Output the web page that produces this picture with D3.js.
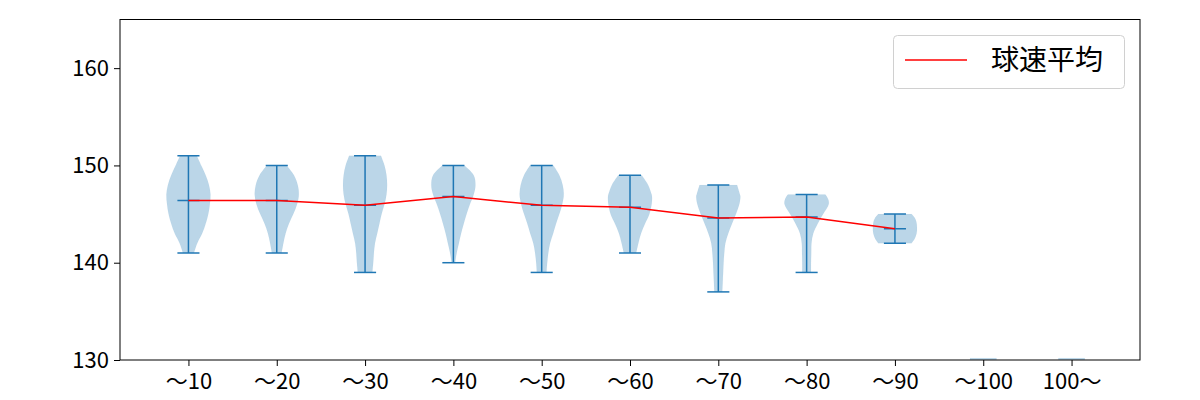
<!DOCTYPE html>
<html><head><meta charset="utf-8">
<script src="https://cdn.jsdelivr.net/npm/d3@7"></script>
<style>
body{margin:0;background:#fff;}
text{font-family:"Noto Sans CJK JP","Noto Sans",sans-serif;}
</style></head>
<body><svg id="c" width="1200" height="400"></svg>
<script>
const categories = ["～10","～20","～30","～40","～50","～60","～70","～80","～90","～100","100～"];
const mins  = [141,141,139,140,139,141,137,139,142,130,130];
const maxs  = [151,150,151,150,150,149,148,147,145,130,130];
const means = [146.4,146.4,145.9,146.8,145.9,145.7,144.6,144.7,143.5,null,null];
// violin outlines: [value, relative half-width]
const shapes = [
  [[141,0.25],[142,0.4],[143,0.62],[144,0.78],[145,0.9],[146,0.97],[147,1.0],[148,0.93],[149,0.78],[150,0.58],[151,0.38]],
  [[141,0.22],[142,0.3],[143,0.4],[144,0.55],[145,0.75],[146,0.92],[147,1.0],[148,0.95],[149,0.78],[150,0.45]],
  [[139,0.33],[140,0.37],[141,0.4],[142,0.45],[143,0.55],[144,0.65],[145,0.75],[146,0.88],[147,0.97],[148,1.0],[149,0.97],[150,0.88],[151,0.72]],
  [[140,0.08],[141,0.15],[142,0.25],[143,0.35],[144,0.47],[145,0.6],[146,0.75],[147,0.92],[148,1.0],[149,0.92],[150,0.5]],
  [[139,0.22],[140,0.25],[141,0.3],[142,0.38],[143,0.52],[144,0.65],[145,0.8],[146,0.93],[147,1.0],[148,0.95],[149,0.8],[150,0.53]],
  [[141,0.28],[142,0.38],[143,0.5],[144,0.68],[145,0.88],[146,0.98],[146.7,1.0],[147,0.98],[148,0.82],[149,0.53]],
  [[137,0.18],[138,0.2],[139,0.22],[140,0.24],[141,0.27],[142,0.32],[143,0.45],[144,0.62],[145,0.8],[146,0.95],[146.8,1.0],[147,0.98],[148,0.85]],
  [[139,0.2],[140,0.2],[141,0.21],[142,0.22],[143,0.3],[144,0.5],[145,0.75],[146,1.0],[146.5,0.98],[147,0.85]],
  [[142,0.75],[142.5,0.9],[143,0.98],[143.6,1.0],[144.2,0.97],[144.6,0.9],[145,0.75]],
  [[129.8,0.6],[130.2,0.6]],
  [[129.8,0.6],[130.2,0.6]]
];
const yTicks = [130,140,150,160];
const legendLabel = "球速平均";

const svg = d3.select("#c");
const L=120,R=1140,T=19.5,B=360;
const x = d3.scaleLinear().domain([0.225,11.775]).range([L,R]);
const y = d3.scaleLinear().domain([130,165]).range([B,T]);
const blue="#1f77b4";
const halfW = 0.25, capW = 0.125;

svg.append("defs").append("clipPath").attr("id","clip").append("rect")
  .attr("x",L).attr("y",T).attr("width",R-L).attr("height",B-T);
const g = svg.append("g").attr("clip-path","url(#clip)");

categories.forEach((c,i)=>{
  const p=i+1;
  const area=d3.area()
    .y(d=>y(d[0]))
    .x0(d=>x(p-d[1]*halfW))
    .x1(d=>x(p+d[1]*halfW))
    .curve(d3.curveCatmullRom);
  g.append("path").attr("d",area(shapes[i]))
    .attr("fill",blue).attr("fill-opacity",0.3).attr("stroke",blue).attr("stroke-opacity",0.05).attr("stroke-width",0.5);
  if(means[i]!==null){
    const lines=[[mins[i],mins[i]],[maxs[i],maxs[i]],[means[i],means[i]]];
    lines.forEach(v=>{
      g.append("line").attr("x1",x(p-capW)).attr("x2",x(p+capW))
        .attr("y1",y(v[0])).attr("y2",y(v[1])).attr("stroke",blue).attr("stroke-width",1.5);
    });
    g.append("line").attr("x1",x(p)).attr("x2",x(p))
      .attr("y1",y(mins[i])).attr("y2",y(maxs[i])).attr("stroke",blue).attr("stroke-width",1.5);
  }
});

const meanPts = means.map((m,i)=>[i+1,m]).filter(d=>d[1]!==null);
g.append("path").attr("d",d3.line().x(d=>x(d[0])).y(d=>y(d[1]))(meanPts))
  .attr("fill","none").attr("stroke","red").attr("stroke-width",1.5);

// axes
const ax = svg.append("g").attr("transform",`translate(0,${B})`)
  .call(d3.axisBottom(x).tickValues(d3.range(1,12)).tickFormat(d=>categories[d-1]).tickSize(6).tickPadding(4));
const ay = svg.append("g").attr("transform",`translate(${L},0)`)
  .call(d3.axisLeft(y).tickValues(yTicks).tickSize(6).tickPadding(5));
[ax,ay].forEach(a=>{
  a.select(".domain").remove();
  a.selectAll("line").attr("stroke","#000").attr("stroke-width",1);
  a.selectAll("text").attr("font-size",22).attr("fill","#000");
});
ax.selectAll("text").attr("dy","0.85em");
svg.append("rect").attr("x",L).attr("y",T).attr("width",R-L).attr("height",B-T)
  .attr("fill","none").attr("stroke","#000").attr("stroke-width",1);

// legend
const lg = svg.append("g");
lg.append("rect").attr("x",893.5).attr("y",35.5).attr("width",231).attr("height",53).attr("rx",4)
  .attr("fill","#fff").attr("fill-opacity",0.8).attr("stroke","#d0d0d0");
lg.append("line").attr("x1",905).attr("x2",967).attr("y1",60).attr("y2",60).attr("stroke","red").attr("stroke-width",1.5);
lg.append("text").attr("x",991).attr("y",60).attr("dy","0.36em").attr("font-size",28).attr("fill","#000").text(legendLabel);
</script></body></html>
